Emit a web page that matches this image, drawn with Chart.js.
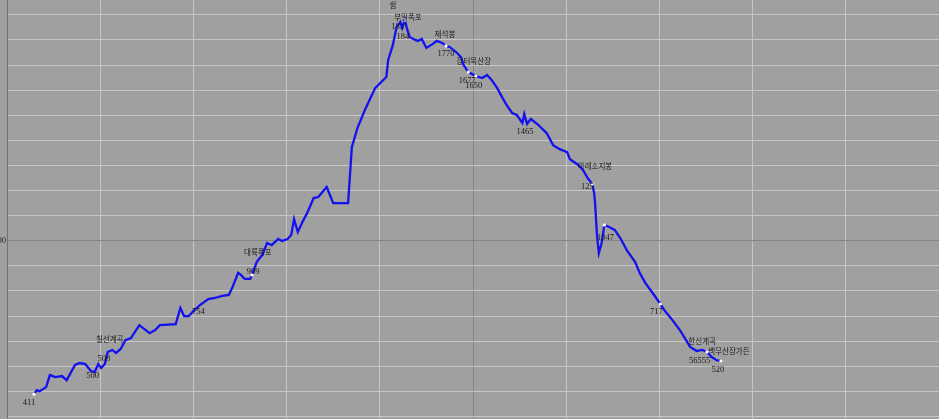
<!DOCTYPE html>
<html><head><meta charset="utf-8">
<script src="https://cdn.jsdelivr.net/npm/chart.js@4"></script>
<style>html,body{margin:0;padding:0;background:#a0a0a0;overflow:hidden}canvas{display:block}</style>
</head><body>
<canvas id="c" width="939" height="419"></canvas>
<script>
// distance (km) and elevation (m) along the route
const distance = [0.29,0.32,0.35,0.42,0.46,0.52,0.59,0.64,0.73,0.78,0.84,0.90,0.94,0.98,1.01,1.05,1.08,1.13,1.17,1.22,1.27,1.33,1.42,1.53,1.59,1.64,1.81,1.86,1.90,1.95,2.00,2.07,2.16,2.23,2.31,2.38,2.42,2.48,2.51,2.55,2.61,2.63,2.68,2.74,2.79,2.84,2.91,2.95,3.01,3.05,3.08,3.12,3.17,3.22,3.29,3.34,3.43,3.50,3.66,3.70,3.76,3.84,3.95,4.07,4.09,4.14,4.18,4.22,4.24,4.27,4.29,4.32,4.38,4.41,4.45,4.50,4.57,4.61,4.67,4.71,4.75,4.83,4.87,4.90,4.95,5.03,5.10,5.15,5.20,5.26,5.31,5.36,5.42,5.47,5.53,5.55,5.58,5.62,5.69,5.79,5.86,5.93,6.01,6.04,6.13,6.18,6.23,6.28,6.30,6.31,6.33,6.35,6.38,6.41,6.46,6.52,6.58,6.65,6.74,6.79,6.85,6.92,7.01,7.06,7.14,7.22,7.33,7.40,7.46,7.51,7.56,7.61,7.66];
const elevation = [389,405,401,417,465,457,461,445,505,513,509,481,477,509,493,509,557,565,553,569,604,612,664,632,644,664,668,732,700,700,720,744,768,772,780,784,816,872,864,848,848,864,916,944,991,983,1007,999,1007,1023,1086,1035,1075,1110,1170,1174,1214,1150,1150,1373,1449,1521,1608,1652,1720,1780,1851,1871,1847,1879,1847,1812,1800,1796,1804,1768,1784,1796,1788,1776,1772,1748,1732,1700,1672,1656,1648,1660,1640,1608,1573,1541,1509,1501,1469,1505,1465,1485,1465,1429,1381,1365,1353,1325,1302,1282,1250,1226,1190,1150,1023,951,991,1063,1055,1043,1011,963,915,871,831,796,748,720,684,644,577,561,565,557,537,525,521];
const xTicks = [0,1,2,3,4,5,6,7,8,9,10];
const yTicks = [300,400,500,600,700,800,900,1000,1100,1200,1300,1400,1500,1600,1700,1800,1900];
const yLabel = "1000";
// point labels: text and the index of the profile point they belong to
const labelTexts  = ["411","500","508","칠선계곡","754","909","대륙폭포","183","184","부일폭포","쉼","제석봉","1770","장터목산장","1677","1650","1465","아래소지봉","125","1047","717","한신계곡","백무산장가든","56555","520"];
const labelPoints = [0,12,15,19,30,41,42,66,70,69,69,79,79,85,84,85,96,105,107,113,122,126,129,127,132];
const markerPoints = [0,41,69,79,84,85,107,113,122,129,132];
</script>
<script>
const labelOffsets = [[-5,9],[-2,4],[-1,-5],[-11,-10],[5,1],[1,-3],[1,-10],[1,0],[-4,9],[3,-3],[-12,-15],[-1,-12],[0,8],[-2,-15],[-1,9],[-2,10],[-2,8],[12,-4],[-5,3],[1,13],[-4,8],[12,-6],[22,-1],[3,10],[-3,9]];
const profile = distance.map((d,i)=>({x:d,y:elevation[i]}));
const markers = markerPoints.map(i=>({x:distance[i],y:elevation[i]}));

const bgPlugin = {
  id:'bg',
  beforeDraw(chart){
    const c=chart.ctx; c.save(); c.fillStyle='#a0a0a0'; c.fillRect(0,0,chart.width,chart.height); c.restore();
  }
};
const labelPlugin = {
  id:'labels',
  afterDatasetsDraw(chart){
    const c=chart.ctx, xs=chart.scales.x, ys=chart.scales.y;
    c.save();
    c.fillStyle='#1a1a1a';
    c.textAlign='center'; c.textBaseline='middle';
    labelTexts.forEach((t,k)=>{
      const i=labelPoints[k];
      const px=xs.getPixelForValue(distance[i])+labelOffsets[k][0];
      const py=ys.getPixelForValue(elevation[i])+labelOffsets[k][1];
      const isNum=/^[0-9]+$/.test(t);
      c.font = isNum ? '8.5px "Liberation Serif"' : '7.5px "Noto Sans CJK KR"';
      c.fillText(t,px,py);
    });
    // clipped y axis label
    c.font='8.5px "Liberation Serif"'; c.textAlign='right'; c.fillStyle='#222';
    c.fillText(yLabel, xs.left-1, ys.getPixelForValue(1000));
    c.restore();
  }
};

new Chart(document.getElementById('c'),{
  type:'line',
  data:{datasets:[
    {data:markers, showLine:false, pointRadius:1.6, pointHoverRadius:0, pointBackgroundColor:'#ffffff', pointBorderWidth:0, order:0},
    {data:profile, borderColor:'#1212f0', borderWidth:2.3, pointRadius:0, pointHoverRadius:0, tension:0, fill:false, order:1}
  ]},
  options:{
    responsive:false, animation:false, devicePixelRatio:1,
    layout:{autoPadding:false, padding:{left:7,right:0,top:0,bottom:0}},
    plugins:{legend:{display:false},tooltip:{enabled:false}},
    scales:{
      x:{type:'linear',min:0,max:10,
        afterBuildTicks:(s)=>{s.ticks=xTicks.map(v=>({value:v}));},
        ticks:{display:false},
        grid:{drawTicks:false,lineWidth:1,color:(ctx)=>ctx.tick&&ctx.tick.value===5?'#858585':'#c6c6c6'},
        border:{display:false}
      },
      y:{type:'linear',min:290,max:1959,
        afterBuildTicks:(s)=>{s.ticks=yTicks.map(v=>({value:v}));},
        ticks:{display:false},
        grid:{drawTicks:false,lineWidth:1,color:(ctx)=>ctx.tick&&ctx.tick.value===1000?'#858585':'#c6c6c6'},
        border:{display:true,color:'#707070',width:1}
      }
    }
  },
  plugins:[bgPlugin,labelPlugin]
});
</script>
</body></html>
